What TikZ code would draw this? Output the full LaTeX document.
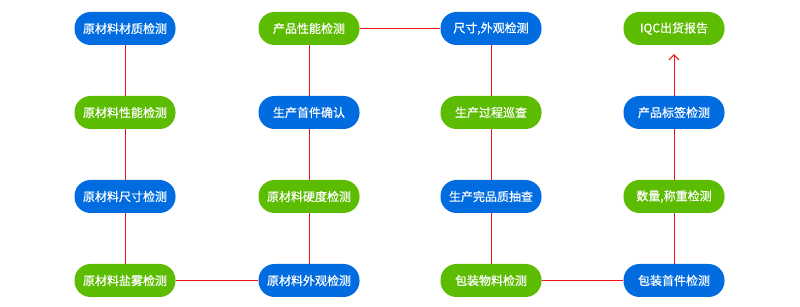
\documentclass[tikz,border=0pt]{standalone}
\usepackage{fontspec}
\usepackage{tikz}
\usetikzlibrary{arrows.meta}
\newfontfamily\cjk[FakeBold=0.6]{Noto Sans CJK SC}

\definecolor{stepblue}{RGB}{0,108,224}
\definecolor{stepgreen}{RGB}{92,188,2}
\definecolor{linkred}{RGB}{236,20,20}

\tikzset{
    box/.style={rounded corners=16pt, minimum width=101pt, minimum height=33pt,
        inner sep=0pt, text=white, font=\cjk\fontsize{12}{12}\selectfont},
    bluebox/.style={box, fill=stepblue},
    greenbox/.style={box, fill=stepgreen},
    link/.style={draw=linkred, line width=1pt}
}

\begin{document}
\begin{tikzpicture}[x=1pt, y=1pt]
    % Canvas size of the reference
    \useasboundingbox (0,0) rectangle (800,307);

    % --- First column: raw material checks ---
    \node[bluebox]  (n1) at (125,278.5) {原材料材质检测};
    \node[greenbox] (n2) at (125,194.5) {原材料性能检测};
    \node[bluebox]  (n3) at (125,110.5) {原材料尺寸检测};
    \node[greenbox] (n4) at (125,26.5)  {原材料盐雾检测};

    % --- Second column: going back up ---
    \node[bluebox]  (n5) at (309,26.5)  {原材料外观检测};
    \node[greenbox] (n6) at (309,110.5) {原材料硬度检测};
    \node[bluebox]  (n7) at (309,194.5) {生产首件确认};
    \node[greenbox] (n8) at (309,278.5) {产品性能检测};

    % --- Third column: production ---
    \node[bluebox]  (n9)  at (491,278.5) {尺寸,外观检测};
    \node[greenbox] (n10) at (491,194.5) {生产过程巡查};
    \node[bluebox]  (n11) at (491,110.5) {生产完品质抽查};
    \node[greenbox] (n12) at (491,26.5)  {包装物料检测};

    % --- Fourth column: packing and shipping ---
    \node[bluebox]  (n13) at (674,26.5)  {包装首件检测};
    \node[greenbox] (n14) at (674,110.5) {数量,称重检测};
    \node[bluebox]  (n15) at (674,194.5) {产品标签检测};
    \node[greenbox] (n16) at (674,278.5) {IQC出货报告};

    % Connectors
    \draw[link] (n1) -- (n2);
    \draw[link] (n2) -- (n3);
    \draw[link] (n3) -- (n4);
    \draw[link] (n4) -- (n5);
    \draw[link] (n5) -- (n6);
    \draw[link] (n6) -- (n7);
    \draw[link] (n7) -- (n8);
    \draw[link] (n8) -- (n9);
    \draw[link] (n9) -- (n10);
    \draw[link] (n10) -- (n11);
    \draw[link] (n11) -- (n12);
    \draw[link] (n12) -- (n13);
    \draw[link] (n13) -- (n14);
    \draw[link] (n14) -- (n15);

    % Last step ends in an arrow short of the report box
    \coordinate (tip) at ([yshift=-9pt]n16.south);
    \draw[link, -{Straight Barb[length=5pt, width=10pt]}] (n15) -- (tip);

\end{tikzpicture}
\end{document}
